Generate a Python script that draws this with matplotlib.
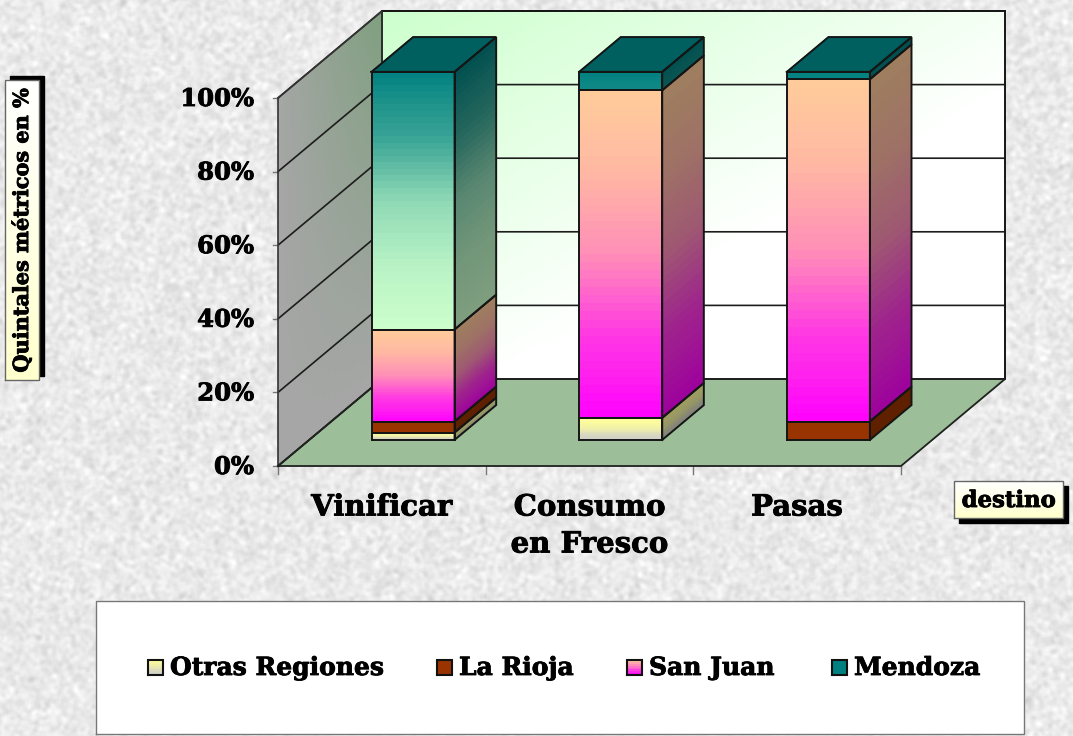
import numpy as np
import matplotlib
matplotlib.use("Agg")
import matplotlib.pyplot as plt
import matplotlib.patheffects as pe
from matplotlib.colors import to_rgb

categories = ["Vinificar", "Consumo\nen Fresco", "Pasas"]
series_names = ["Otras Regiones", "La Rioja", "San Juan", "Mendoza"]
otras = [2, 6, 0]
rioja = [3, 0, 5]
san_juan = [25, 89, 93]
mendoza = [70, 5, 2]
pct_ticks = [0, 20, 40, 60, 80, 100]

plt.rcParams["font.family"] = "DejaVu Serif"
plt.rcParams["font.weight"] = "bold"

# plot box in pixels
X0, X1, Y0, Y100 = 278, 901, 466, 98
DX, DY = 104, -87
BAR_W, D0, D1 = 0.4, 0.3, 0.7
HEAVY = [pe.withStroke(linewidth=0.6, foreground="black")]


def proj(c, pct, d):
    # category position, percent and depth -> picture pixels
    x = X0 + c * (X1 - X0) / len(categories) + d * DX
    y = Y0 - pct * (Y0 - Y100) / 100 + d * DY
    return x, y


def mix(a, b, t):
    return np.array(to_rgb(a)) * (1 - t) + np.array(to_rgb(b)) * t


def mesh_face(ax, corners, color_at, n=50, zorder=1):
    # corners: bottom-left, bottom-right, top-right, top-left
    bl, br, tr, tl = [np.array(p, dtype=float) for p in corners]
    u = np.linspace(0, 1, n + 1)
    v = np.linspace(0, 1, n + 1)
    U, V = np.meshgrid(u, v)
    X = (1 - V) * ((1 - U) * bl[0] + U * br[0]) + V * ((1 - U) * tl[0] + U * tr[0])
    Y = (1 - V) * ((1 - U) * bl[1] + U * br[1]) + V * ((1 - U) * tl[1] + U * tr[1])
    uc = (u[:-1] + u[1:]) / 2
    vc = (v[:-1] + v[1:]) / 2
    C = np.zeros((n, n, 3))
    for i in range(n):
        for j in range(n):
            C[i, j] = color_at(uc[j], vc[i])
    ax.pcolormesh(X, Y, C, shading="flat", antialiased=False, linewidth=0, zorder=zorder)


def outline(ax, corners, color="#151515", lw=1.4, zorder=4):
    xs = [p[0] for p in corners] + [corners[0][0]]
    ys = [p[1] for p in corners] + [corners[0][1]]
    ax.plot(xs, ys, color=color, lw=lw, zorder=zorder, solid_joinstyle="miter")


def label_box(ax, left, right, top, bottom, sx, sy):
    # black shadow, then white to pale yellow box
    ax.fill([left + sx, right + sx, right + sx, left + sx],
            [top + sy, top + sy, bottom + sy, bottom + sy], color="black", zorder=5)
    mesh_face(ax, [(left, bottom), (right, bottom), (right, top), (left, top)],
              lambda u, v: mix("#FFFFCC", "#FFFFFF", v), n=30, zorder=5.1)
    outline(ax, [(left, bottom), (right, bottom), (right, top), (left, top)],
            color="#666666", lw=1, zorder=5.2)


def bar_text(ax, x, y, s, **kw):
    ax.text(x, y, s, zorder=6, path_effects=HEAVY, **kw)


fig = plt.figure(figsize=(10.73, 7.36), dpi=100)
ax = fig.add_axes([0, 0, 1, 1])

# paper texture behind the chart, only decoration
rng = np.random.default_rng(3)
tex = rng.normal(0, 1, (736, 1073))
for k in [3, 5]:
    tex = sum(np.roll(np.roll(tex, i, 0), j, 1) for i in range(k) for j in range(k)) / k
tex = 233 + tex / tex.std() * 6
ax.imshow(np.clip(tex, 0, 255), cmap="gray", vmin=0, vmax=255,
          extent=(0, 1073, 736, 0), aspect="auto", zorder=0, interpolation="bilinear")

n_cat = len(categories)

# back wall
back = [proj(0, 0, 1), proj(n_cat, 0, 1), proj(n_cat, 100, 1), proj(0, 100, 1)]
mesh_face(ax, back, lambda u, v: mix("#CCFFCC", "#FFFFFF", min(1, 0.8 * u + 0.85 * (1 - v))), n=70)
outline(ax, back, zorder=2.5)

# side wall
side = [proj(0, 0, 0), proj(0, 0, 1), proj(0, 100, 1), proj(0, 100, 0)]
mesh_face(ax, side, lambda u, v: mix("#A6A6A6", "#7F9F7F", u * v), n=50)
outline(ax, side, color="#333333", lw=1.2, zorder=2.5)

# floor
floor = [proj(0, 0, 0), proj(n_cat, 0, 0), proj(n_cat, 0, 1), proj(0, 0, 1)]
ax.fill([p[0] for p in floor], [p[1] for p in floor], color="#9CBF99", zorder=1.5)
outline(ax, floor, color="#222222", lw=1.3, zorder=2.5)

# gridlines and ticks
for t in pct_ticks:
    a, b, c = proj(0, t, 0), proj(0, t, 1), proj(n_cat, t, 1)
    ax.plot([a[0], b[0], c[0]], [a[1], b[1], c[1]], color="#1c1c1c", lw=1.2, zorder=2)
    ax.plot([a[0] - 5, a[0]], [a[1], a[1]], color="#777777", lw=1, zorder=2)
    bar_text(ax, a[0] - 24, a[1] + 1, f"{t}%", ha="right", va="center", fontsize=17.5)
for i in range(n_cat + 1):
    a = proj(i, 0, 0)
    ax.plot([a[0], a[0]], [a[1], a[1] + 8], color="#777777", lw=1, zorder=2)

# stacked bars, the ramp is not linear: dark end short, pale end long
SHADE = 0.62


def ramp(w):
    return np.interp(w, [0, 0.125, 0.25, 0.5, 0.75, 1], [0, 0.15, 0.27, 0.7, 0.9, 1])


def segment_color(name, h, v):
    if name == "Mendoza":
        pale = mix("#008080", "#CCFFCC", min(1, h / 70))
        return mix("#008080", pale, ramp(1 - v))
    if name == "San Juan":
        return mix("#FF00FF", "#FFCC99", ramp(v))
    if name == "Otras Regiones":
        return mix("#CCCCCC", "#FFFF99", ramp(v))
    return np.array(to_rgb("#993300"))


for i in range(n_cat):
    left = i + 0.5 - BAR_W / 2
    right = i + 0.5 + BAR_W / 2
    base = 0
    for name, vals in zip(series_names, [otras, rioja, san_juan, mendoza]):
        h = vals[i]
        if h == 0:
            continue
        top = base + h
        f = [proj(left, base, D0), proj(right, base, D0), proj(right, top, D0), proj(left, top, D0)]
        s = [proj(right, base, D0), proj(right, base, D1), proj(right, top, D1), proj(right, top, D0)]
        mesh_face(ax, f, lambda u, v: segment_color(name, h, v), n=40, zorder=3)
        mesh_face(ax, s, lambda u, v: segment_color(name, h, v) * SHADE, n=40, zorder=3)
        outline(ax, f)
        outline(ax, s)
        base = top
    roof = [proj(left, base, D0), proj(right, base, D0), proj(right, base, D1), proj(left, base, D1)]
    ax.fill([p[0] for p in roof], [p[1] for p in roof], color="#006060", zorder=3)
    outline(ax, roof)

    cx = proj(i + 0.5, 0, 0)[0]
    lines = categories[i].split("\n")
    for k, line in enumerate(lines):
        bar_text(ax, cx, 507 + k * 37, line, ha="center", va="center", fontsize=21)

# axis title boxes
label_box(ax, 5, 39, 80, 380, 5, -4)
bar_text(ax, 22, 230, "Quintales métricos en %", rotation=90, ha="center", va="center", fontsize=15)
label_box(ax, 954, 1063, 481, 518, 5, 5)
bar_text(ax, 1008.5, 501, "destino", ha="center", va="center", fontsize=16.4)

# legend
lg = [(96, 734), (1024, 734), (1024, 601), (96, 601)]
ax.fill([p[0] for p in lg], [p[1] for p in lg], color="white", zorder=5)
outline(ax, lg, color="#777777", lw=1, zorder=5.1)
key_x = [148, 437, 627, 832]
key_cols = [("#CCCCCC", "#FFFF99"), ("#993300", "#993300"), ("#FF00FF", "#FFCC99"), ("#008080", "#008080")]
for name, kx, (low, high) in zip(series_names, key_x, key_cols):
    k = [(kx, 675), (kx + 15, 675), (kx + 15, 660), (kx, 660)]
    mesh_face(ax, k, lambda u, v, low=low, high=high: mix(low, high, v), n=8, zorder=5.2)
    outline(ax, k, color="#111111", lw=1.5, zorder=5.3)
    bar_text(ax, kx + 22, 668, name, ha="left", va="center", fontsize=18)

ax.set_xlim(0, 1073)
ax.set_ylim(736, 0)
ax.axis("off")
fig.savefig("out.png", dpi=100)
